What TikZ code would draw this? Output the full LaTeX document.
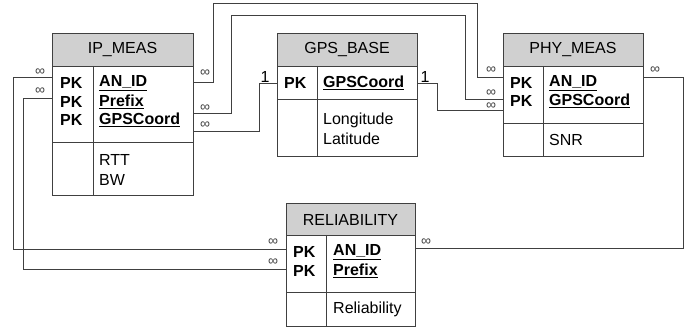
\documentclass[tikz,border=0pt]{standalone}
\usepackage{fontspec}
\setmainfont{Liberation Sans}
\definecolor{linec}{RGB}{64,64,64}
\definecolor{hdrc}{RGB}{208,208,208}
\tikzset{
  box/.style={draw=linec, line width=0.9pt, inner sep=0pt, anchor=north west},
  hdr/.style={box, fill=hdrc, font=\fontsize{16}{19}\selectfont},
  txt/.style={anchor=west, inner sep=0pt, font=\fontsize{16}{19}\selectfont},
  btxt/.style={txt, font=\fontsize{16}{19}\selectfont\bfseries},
  inf/.style={inner sep=0pt, text=linec, font=\fontsize{14}{16}\selectfont},
  one/.style={inner sep=0pt, font=\fontsize{16}{19}\selectfont},
  conn/.style={draw=linec, line width=0.9pt},
  divl/.style={draw=linec, line width=0.9pt}
}
\newcommand{\ul}[1]{\underline{#1}}
\begin{document}
\begin{tikzpicture}[x=1pt,y=-1pt]
\useasboundingbox (0,0) rectangle (691,328);

% ---------- IP_MEAS ----------
\node[hdr, minimum width=141pt, minimum height=33pt] (iph) at (52,33) {};
\node[font=\fontsize{16}{19}\selectfont, inner sep=0pt] (ipt) at (122.5,50) {IP\_MEAS};
\node[box, minimum width=141pt, minimum height=76pt] (ipk) at (52,66) {};
\node[box, minimum width=141pt, minimum height=53pt] (ipa) at (52,142) {};
\draw[divl] (93,66) -- (93,195);
\node[btxt] (ipk1) at (60,83) {PK};
\node[btxt] (ipk2) at (60,102) {PK};
\node[btxt] (ipk3) at (60,120) {PK};
\node[btxt] (ipf1) at (99,83) {\ul{AN\_ID}};
\node[btxt] (ipf2) at (99,102) {\ul{Prefix}};
\node[btxt] (ipf3) at (99,120) {\ul{GPSCoord}};
\node[txt] (ipf4) at (99,160) {RTT};
\node[txt] (ipf5) at (99,180) {BW};

% ---------- GPS_BASE ----------
\node[hdr, minimum width=140pt, minimum height=33pt] (gph) at (277,33) {};
\node[font=\fontsize{16}{19}\selectfont, inner sep=0pt] (gpt) at (347,50) {GPS\_BASE};
\node[box, minimum width=140pt, minimum height=33pt] (gpk) at (277,66) {};
\node[box, minimum width=140pt, minimum height=57pt] (gpa) at (277,99) {};
\draw[divl] (317,66) -- (317,156);
\node[btxt] (gpk1) at (284,83) {PK};
\node[btxt] (gpf1) at (323,83) {\ul{GPSCoord}};
\node[txt] (gpf2) at (323,120) {Longitude};
\node[txt] (gpf3) at (323,139) {Latitude};

% ---------- PHY_MEAS ----------
\node[hdr, minimum width=140pt, minimum height=33pt] (phh) at (503,33) {};
\node[font=\fontsize{16}{19}\selectfont, inner sep=0pt] (pht) at (573,50) {PHY\_MEAS};
\node[box, minimum width=140pt, minimum height=57pt] (phk) at (503,66) {};
\node[box, minimum width=140pt, minimum height=33pt] (pha) at (503,123) {};
\draw[divl] (543,66) -- (543,156);
\node[btxt] (phk1) at (510,83) {PK};
\node[btxt] (phk2) at (510,101) {PK};
\node[btxt] (phf1) at (549,83) {\ul{AN\_ID}};
\node[btxt] (phf2) at (549,101) {\ul{GPSCoord}};
\node[txt] (phf3) at (549,140) {SNR};

% ---------- RELIABILITY ----------
\node[hdr, minimum width=129pt, minimum height=32pt] (reh) at (286,203) {};
\node[font=\fontsize{16}{19}\selectfont, inner sep=0pt] (ret) at (350.5,219.5) {RELIABILITY};
\node[box, minimum width=129pt, minimum height=57pt] (rek) at (286,235) {};
\node[box, minimum width=129pt, minimum height=34pt] (rea) at (286,292) {};
\draw[divl] (326,235) -- (326,326);
\node[btxt] (rek1) at (293,252) {PK};
\node[btxt] (rek2) at (293,271) {PK};
\node[btxt] (ref1) at (333,252) {\ul{AN\_ID}};
\node[btxt] (ref2) at (333,271) {\ul{Prefix}};
\node[txt] (ref3) at (333,309) {Reliability};

% ---------- connector end points ----------
\coordinate (c1a) at (193,82);  \coordinate (c1b) at (503,77);
\coordinate (c2a) at (193,113); \coordinate (c2b) at (503,99);
\coordinate (c3a) at (193,131); \coordinate (c3b) at (277,83);
\coordinate (c4a) at (417,83);  \coordinate (c4b) at (503,110);
\coordinate (c5a) at (643,77);  \coordinate (c5b) at (415,248);
\coordinate (c6a) at (52,77);   \coordinate (c6b) at (286,249);
\coordinate (c7a) at (52,98);   \coordinate (c7b) at (286,269);

\draw[conn] (c1a) -- (213,82) -- (213,3) -- (477,3) -- (477,77) -- (c1b);
\draw[conn] (c2a) -- (231,113) -- (231,15) -- (465,15) -- (465,99) -- (c2b);
\draw[conn] (c3a) -- (259,131) -- (259,83) -- (c3b);
\draw[conn] (c4a) -- (437,83) -- (437,110) -- (c4b);
\draw[conn] (c5a) -- (683,77) -- (683,248) -- (c5b);
\draw[conn] (c6a) -- (13,77) -- (13,249) -- (c6b);
\draw[conn] (c7a) -- (23,98) -- (23,269) -- (c7b);

% ---------- cardinality labels ----------
\node[inf] (l1) at (205,73) {∞};
\node[inf] (l2) at (205,108) {∞};
\node[inf] (l3) at (205,125) {∞};
\node[inf] (l4) at (40,72) {∞};
\node[inf] (l5) at (40,91) {∞};
\node[inf] (l6) at (491,70) {∞};
\node[inf] (l7) at (491,93) {∞};
\node[inf] (l8) at (491,106) {∞};
\node[inf] (l9) at (655,70) {∞};
\node[inf] (l10) at (273,242) {∞};
\node[inf] (l11) at (273,262) {∞};
\node[inf] (l12) at (426,242) {∞};
\node[one] (o1) at (265,77) {1};
\node[one] (o2) at (425,77) {1};
\end{tikzpicture}
\end{document}
